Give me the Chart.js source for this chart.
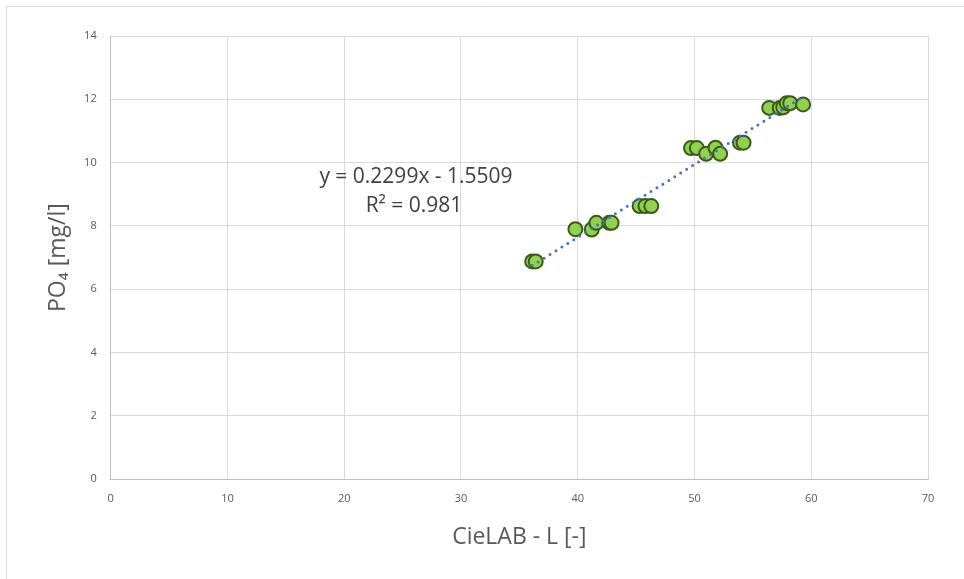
<!DOCTYPE html>
<html>
<head>
<meta charset="utf-8">
<script src="https://cdn.jsdelivr.net/npm/chart.js@4.4.1/dist/chart.umd.min.js"></script>
<style>
html,body{margin:0;padding:0;background:#fff;}
#wrap{position:relative;width:964px;height:579px;}
</style>
</head>
<body>
<div id="wrap"><canvas id="c" width="964" height="579"></canvas></div>
<script>
// Data
const lValues  = [36.1, 36.4, 39.8, 41.2, 41.6, 42.7, 42.9, 45.3, 45.8, 46.3, 49.7, 50.2, 51.0, 51.8, 52.2, 53.9, 54.2, 56.4, 57.3, 57.6, 57.9, 58.2, 59.3];
const po4Values = [6.88, 6.88, 7.90, 7.89, 8.10, 8.10, 8.10, 8.63, 8.63, 8.63, 10.46, 10.46, 10.28, 10.47, 10.28, 10.63, 10.63, 11.73, 11.73, 11.75, 11.88, 11.88, 11.84];
const trendSlope = 0.2299;
const trendIntercept = -1.5509;
const trendRange = [36.1, 59.3];
const xTicks = [0, 10, 20, 30, 40, 50, 60, 70];
const yTicks = [0, 2, 4, 6, 8, 10, 12, 14];
const eqLabel = 'y = 0.2299x - 1.5509';
const r2Label = 'R² = 0.981';

const points = lValues.map((x, i) => ({x: x, y: po4Values[i]}));
const trend = trendRange.map(x => ({x: x, y: trendSlope * x + trendIntercept}));

const extras = {
  id: 'extras',
  beforeDraw(chart) {
    const ctx = chart.ctx;
    ctx.save();
    ctx.fillStyle = '#fff';
    ctx.fillRect(0, 0, chart.width, chart.height);
    ctx.strokeStyle = '#D9D9D9';
    ctx.lineWidth = 1;
    ctx.beginPath();
    ctx.moveTo(6.5, chart.height);
    ctx.lineTo(6.5, 6.5);
    ctx.lineTo(chart.width, 6.5);
    ctx.stroke();
    ctx.restore();
  },
  afterDatasetsDraw(chart) {
    const ctx = chart.ctx;
    ctx.save();
    ctx.fillStyle = '#404040';
    ctx.font = '21px "Open Sans", sans-serif';
    ctx.textAlign = 'center';
    ctx.textBaseline = 'middle';
    ctx.fillText(eqLabel, 416, 177);
    ctx.fillText(r2Label, 414, 206);
    ctx.restore();
  }
};

new Chart(document.getElementById('c'), {
  type: 'scatter',
  data: {
    datasets: [
      {
        type: 'line',
        data: trend,
        borderColor: '#4472C4',
        borderWidth: 3,
        borderDash: [0, 7],
        borderCapStyle: 'round',
        pointRadius: 0,
        fill: false,
        order: 0
      },
      {
        data: points,
        backgroundColor: '#92D050',
        borderColor: '#3A5A1C',
        borderWidth: 2,
        pointRadius: 7,
        order: 1
      }
    ]
  },
  plugins: [extras],
  options: {
    responsive: false,
    animation: false,
    events: [],
    layout: {padding: {left: 41, right: 36, top: 36, bottom: 24}},
    plugins: {legend: {display: false}, tooltip: {enabled: false}},
    scales: {
      x: {
        type: 'linear',
        min: 0, max: 70,
        afterBuildTicks: s => { s.ticks = xTicks.map(v => ({value: v})); },
        grid: {color: '#D9D9D9', lineWidth: 1, drawTicks: false},
        border: {color: '#BFBFBF', width: 1},
        ticks: {color: '#595959', font: {family: 'Open Sans', size: 11}, padding: 13, maxRotation: 0},
        title: {display: true, text: 'CieLAB - L [-]', color: '#595959', font: {family: 'Open Sans', size: 23}, padding: {top: 10}},
        afterFit: s => { s.height = 75.7; }
      },
      y: {
        type: 'linear',
        min: 0, max: 14,
        afterBuildTicks: s => { s.ticks = yTicks.map(v => ({value: v})); },
        grid: {color: '#D9D9D9', lineWidth: 1, drawTicks: false},
        border: {color: '#BFBFBF', width: 1},
        ticks: {color: '#595959', font: {family: 'Open Sans', size: 11}, padding: 14},
        title: {display: true, text: 'PO₄ [mg/l]', color: '#595959', font: {family: 'Open Sans', size: 23}, padding: {bottom: 10}},
        afterFit: s => { s.width = 69.7; }
      }
    }
  }
});
</script>
</body>
</html>
